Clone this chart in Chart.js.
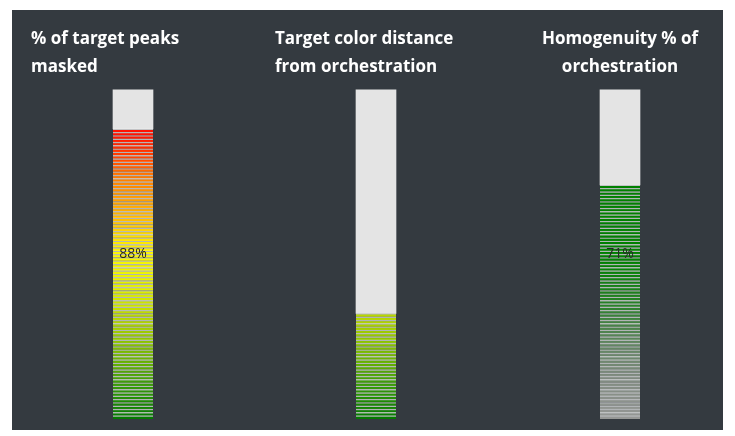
<!DOCTYPE html>
<html>
<head>
<meta charset="utf-8">
<script src="https://cdn.jsdelivr.net/npm/chart.js@4.4.1/dist/chart.umd.min.js"></script>
<style>
  html, body { margin: 0; padding: 0; background: #ffffff; width: 735px; height: 436px; overflow: hidden; }
  #panel { position: absolute; left: 12px; top: 10px; width: 711px; height: 420px; background: #343a40; }
  #panel canvas { position: absolute; top: 0; }
</style>
</head>
<body>
<div id="panel">
  <canvas id="gauge0" width="240" height="420" style="left:0px;width:240px;height:420px"></canvas>
  <canvas id="gauge1" width="240" height="420" style="left:243px;width:240px;height:420px"></canvas>
  <canvas id="gauge2" width="224" height="420" style="left:487px;width:224px;height:420px"></canvas>
</div>
<script>
// Gauge titles (one entry per gauge, split into lines)
const titles = [
  ['% of target peaks', 'masked'],
  ['Target color distance', 'from orchestration'],
  ['Homogenuity % of', 'orchestration']
];
// Gauge readings, in percent
const values = [88, 32, 71];
// Which gauges print their reading
const showReading = [true, false, true];
// Full scale of every gauge
const scaleMax = 100;

// Colour ramps, from the bottom of the scale (0) to the top (1)
const heatRamp = [
  [0.00, [0, 120, 0]],
  [0.10, [55, 152, 8]],
  [0.20, [118, 184, 0]],
  [0.30, [178, 212, 0]],
  [0.40, [226, 240, 0]],
  [0.50, [252, 248, 0]],
  [0.55, [255, 226, 0]],
  [0.62, [255, 182, 0]],
  [0.73, [255, 128, 0]],
  [0.80, [255, 64, 0]],
  [0.86, [255, 20, 0]],
  [1.00, [255, 0, 0]]
];
const greenRamp = [
  [0.00, [150, 152, 150]],
  [0.12, [128, 138, 128]],
  [0.24, [92, 132, 92]],
  [0.36, [36, 128, 36]],
  [0.48, [0, 128, 0]],
  [1.00, [0, 128, 0]]
];
const ramps = [heatRamp, heatRamp, greenRamp];
const layouts = [
  { left: 19, right: 17, align: 'start' },
  { left: 20, right: 18, align: 'start' },
  { left: 18, right: 0, align: 'center' }
];

function rampColor(ramp, t) {
  for (let k = 1; k < ramp.length; k++) {
    if (t <= ramp[k][0]) {
      const [t0, c0] = ramp[k - 1];
      const [t1, c1] = ramp[k];
      const f = (t - t0) / (t1 - t0 || 1);
      const c = c0.map((v, j) => Math.round(v + (c1[j] - v) * f));
      return `rgb(${c[0]},${c[1]},${c[2]})`;
    }
  }
  const c = ramp[ramp.length - 1][1];
  return `rgb(${c[0]},${c[1]},${c[2]})`;
}

// Prints the reading in the middle of the gauge
const readingLabel = {
  id: 'readingLabel',
  afterDatasetsDraw(chart, args, opts) {
    if (!opts.text) return;
    const ctx = chart.ctx;
    const x = chart.scales.x.getPixelForValue(0);
    const y = chart.scales.y.getPixelForValue(scaleMax / 2);
    ctx.save();
    ctx.font = '14px "Open Sans", sans-serif';
    ctx.fillStyle = '#262626';
    ctx.textAlign = 'center';
    ctx.textBaseline = 'middle';
    ctx.fillText(opts.text, x, y);
    ctx.restore();
  }
};

values.forEach((value, g) => {
  // one thin stacked segment per percent, then the empty remainder
  const datasets = [];
  for (let i = 0; i < value; i++) {
    datasets.push({
      data: [1],
      backgroundColor: rampColor(ramps[g], (i + 0.5) / scaleMax),
      borderColor: 'rgba(255,255,255,0.62)',
      borderWidth: { top: 1.4, bottom: 0, left: 0, right: 0 },
      borderSkipped: false,
      barThickness: 40
    });
  }
  datasets.push({
    data: [scaleMax - value],
    backgroundColor: '#e4e4e4',
    borderWidth: 0,
    barThickness: 40
  });

  new Chart(document.getElementById('gauge' + g), {
    type: 'bar',
    data: { labels: [titles[g].join(' ')], datasets },
    plugins: [readingLabel],
    options: {
      responsive: false,
      animation: false,
      devicePixelRatio: 1,
      layout: { padding: { left: layouts[g].left, right: layouts[g].right, top: 0, bottom: 11 } },
      scales: {
        x: { stacked: true, display: false },
        y: { stacked: true, display: false, min: 0, max: scaleMax }
      },
      plugins: {
        legend: { display: false },
        tooltip: { enabled: false },
        title: {
          display: true,
          text: titles[g],
          align: layouts[g].align,
          color: '#ffffff',
          font: { family: '"Open Sans", sans-serif', size: 17, weight: 'bold', lineHeight: 1.6 },
          padding: { top: 16, bottom: 9 }
        },
        readingLabel: { text: showReading[g] ? value + '%' : '' }
      }
    }
  });
});
</script>
</body>
</html>
